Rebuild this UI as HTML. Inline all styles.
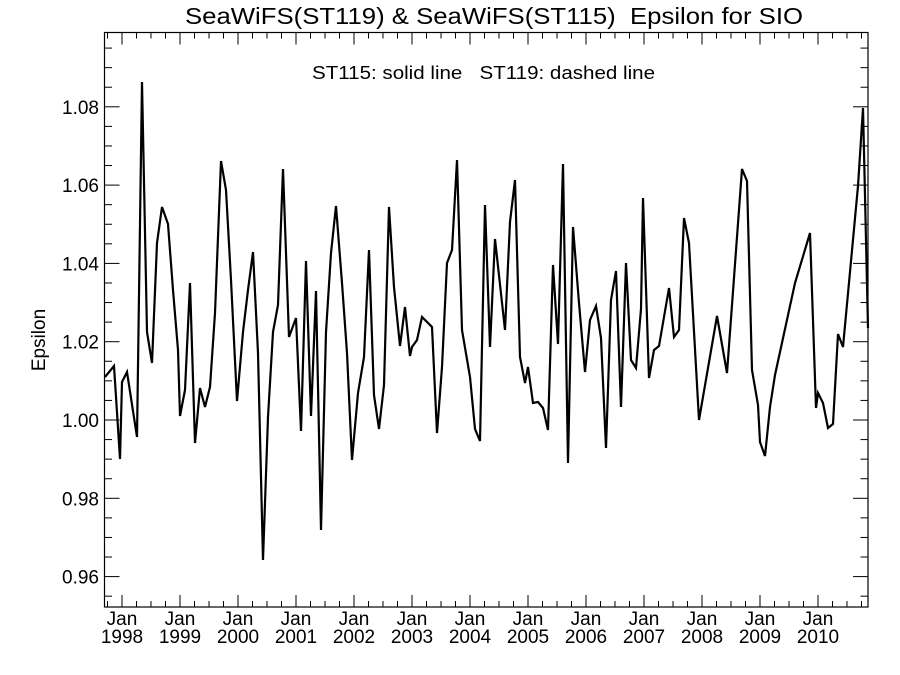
<!DOCTYPE html>
<html><head><style>body{margin:0;background:#fff}svg{display:block}</style></head><body>
<svg width="900" height="675" xmlns="http://www.w3.org/2000/svg" font-family="Liberation Sans, sans-serif">
<rect width="900" height="675" fill="#fff"/>
<text x="185" y="24" font-size="23" textLength="618" lengthAdjust="spacingAndGlyphs" xml:space="preserve">SeaWiFS(ST119) &amp; SeaWiFS(ST115)  Epsilon for SIO</text>
<text x="312" y="79" font-size="18" textLength="343" lengthAdjust="spacingAndGlyphs" xml:space="preserve">ST115: solid line   ST119: dashed line</text>
<text transform="translate(45,340) rotate(-90)" font-size="19" text-anchor="middle">Epsilon</text>
<rect x="104.5" y="32.5" width="763.5" height="574.5" stroke="#000" stroke-width="1.2" fill="none"/>
<g id="ticks" stroke="#000" stroke-width="1"></g>
<g font-size="19" id="ylab" text-anchor="end"></g>
<g font-size="19" id="xlab" text-anchor="middle"></g>
<polyline fill="none" stroke="#000" stroke-width="2.2" stroke-linejoin="miter" points="105,377 114,366 120,459 122,382 127,372 137,437 142,82 147,332 152,363 157,243 162,207 168,224 173,290 178,350 180,416 185,390 190,283 195,443 200,388 205,407 210,387 215,313 221,161 226,190 231,280 237,401 243,332 248,290 253,252 258,353 263,560 268,417 273,332 278,305 283,169 289,337 296,318 301,431 306,261 311,416 316,291 321,530 326,332 331,253 336,206 342,283 347,353 352,460 358,393 364,357 369,250 374,395 379,429 384,385 389,207 394,287 400,346 405,307 410,356 412,347 417,340 422,317 432,327 437,433 442,367 447,263 452,250 457,160 462,330 470,377 475,429 480,441 485,205 490,347 495,239 505,330 510,222 515,180 520,357 525,383 528,367 533,403 538,402 543,408 548,430 553,265 558,344 563,164 568,463 573,227 579,303 585,372 590,320 596,306 601,338 606,448 611,300 616,271 621,407 626,263 631,360 636,368 641,309 643,198 649,378 654,350 659,346 669,288 674,337 679,330 684,218 689,243 699,420 717,316 727,373 742,169 747,181 752,370 758,405 760,442 765,456 770,407 775,375 795,283 810,233 816,408 818,393 823,403 828,428 833,424 838,334 843,347 858,186 863,108 868,328"/>
</svg>
<script>
var ns="http://www.w3.org/2000/svg",t=document.getElementById("ticks"),yl=document.getElementById("ylab"),xl=document.getElementById("xlab");
function L(a,b,c,d){var l=document.createElementNS(ns,"line");l.setAttribute("x1",a);l.setAttribute("y1",b);l.setAttribute("x2",c);l.setAttribute("y2",d);t.appendChild(l);}
function T(g,x,y,s){var e=document.createElementNS(ns,"text");e.setAttribute("x",x);e.setAttribute("y",y);e.textContent=s;g.appendChild(e);}
var y0=420,py=3915;
for(var v=-0.065;v<=0.1;v+=0.005){var y=y0-v*py;if(y<33||y>606)continue;var mj=Math.abs(Math.round(v*1000)%20)==0;var len=mj?15:7.5;L(104.5,y,104.5+len,y);L(868,y,868-len,y);
if(mj){T(yl,99,y+7,(1+v).toFixed(2));}}
for(var m=-3;m<=156;m+=3){var x=122+m*58/12;if(x<105||x>867)continue;var mj=m%12==0;var len=mj?12:6;L(x,607,x,607-len);L(x,32.5,x,32.5+len);
if(mj){T(xl,x,625,"Jan");T(xl,x,643,String(1998+m/12));}}
</script>
</body></html>
